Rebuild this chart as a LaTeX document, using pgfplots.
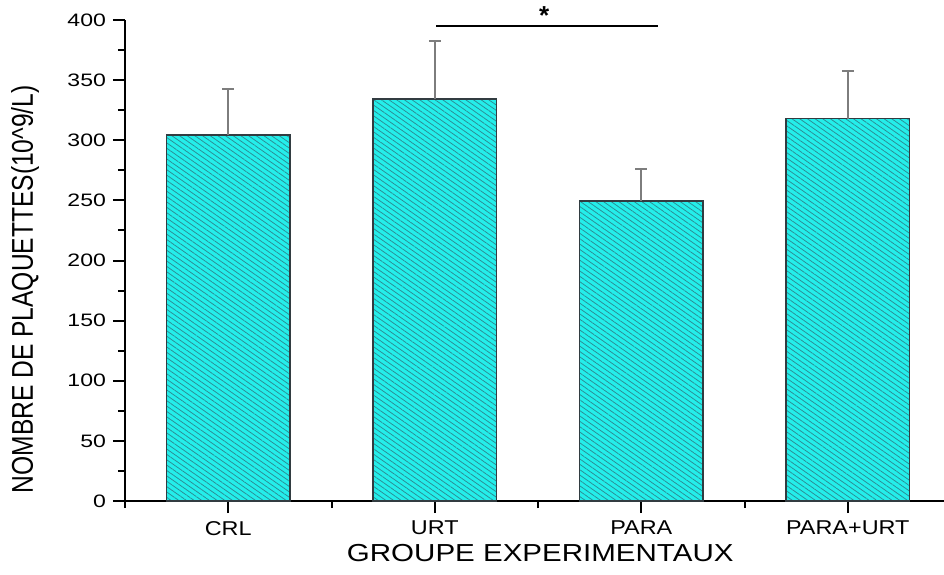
\documentclass[border=0pt]{standalone}
\usepackage{pgfplots}
\pgfplotsset{compat=1.18}
\usepackage{fontspec}
\setmainfont{Liberation Sans}
\usetikzlibrary{patterns.meta}
\usepackage{graphicx}

\definecolor{barfill}{RGB}{36,238,234}
\definecolor{hatch}{RGB}{44,140,148}
\definecolor{edge}{RGB}{50,60,65}
\definecolor{errgray}{RGB}{125,125,125}

\begin{document}
\begin{tikzpicture}
\useasboundingbox (0,0) rectangle (472pt,287pt);
\begin{axis}[
  at={(62.5pt,36.5pt)}, anchor=south west,
  scale only axis,
  width=409.5pt, height=240.5pt,
  xmin=0.5, xmax=4.466,
  ymin=0, ymax=400,
  clip=false,
  axis x line*=bottom, axis y line*=left,
  axis line style={line width=1pt, -},
  tick align=outside,
  major tick length=6pt, minor tick length=3.5pt,
  every tick/.style={line width=1pt, black},
  xtick={1,2,3,4},
  minor xtick={0.5,1.5,2.5,3.5},
  xticklabels={\scalebox{1.17}[1]{CRL},\scalebox{1.17}[1]{URT},\scalebox{1.17}[1]{PARA},\scalebox{1.17}[1]{PARA+URT}},
  xticklabel style={font=\fontsize{10}{12}\selectfont, yshift=-0.5pt},
  ytick={0,50,...,400},
  minor y tick num=1,
  yticklabel={\scalebox{1.28}[1]{\pgfmathprintnumber[assume math mode=true]{\tick}}},
  yticklabel style={font=\fontsize{9}{10}\selectfont},
  xlabel={\scalebox{1.2}[1]{GROUPE EXPERIMENTAUX}},
  xlabel style={font=\fontsize{12.3}{14}\selectfont, at={(axis description cs:0.507,-0.108)}, anchor=center},
  ylabel={\scalebox{1}[1.22]{NOMBRE DE PLAQUETTES(10\textasciicircum 9/L)}},
  ylabel style={font=\fontsize{12.3}{14}\selectfont, at={(axis description cs:-0.122,0.44)}, anchor=center},
  ybar, bar width=0.6,
]
\addplot[
  draw=edge, line width=0.75pt, fill=barfill,
  postaction={pattern={Lines[angle=-35,distance=2.2pt,line width=0.38pt]}, pattern color=hatch},
  error bars/.cd, y dir=plus, y explicit,
  error bar style={errgray, line width=0.8pt},
  error mark options={rotate=90, mark size=3pt, errgray, line width=0.8pt},
] coordinates {
  (1,304.4) +- (0,38.2)
  (2,334.3) +- (0,48.0)
  (3,249.6) +- (0,26.4)
  (4,318.0) +- (0,39.7)
};
\end{axis}
% significance bracket between URT and PARA
\begin{axis}[
  at={(62.5pt,36.5pt)}, anchor=south west,
  scale only axis,
  width=409.5pt, height=240.5pt,
  xmin=0.5, xmax=4.466,
  ymin=0, ymax=400,
  clip=false, axis lines=none,
]
\addplot[black, line width=0.6pt] coordinates {(2.006,395) (3.082,395)};
\node[font=\fontsize{13}{14}\selectfont\bfseries] at (axis cs:2.53,404) {*};
\end{axis}
\end{tikzpicture}
\end{document}
